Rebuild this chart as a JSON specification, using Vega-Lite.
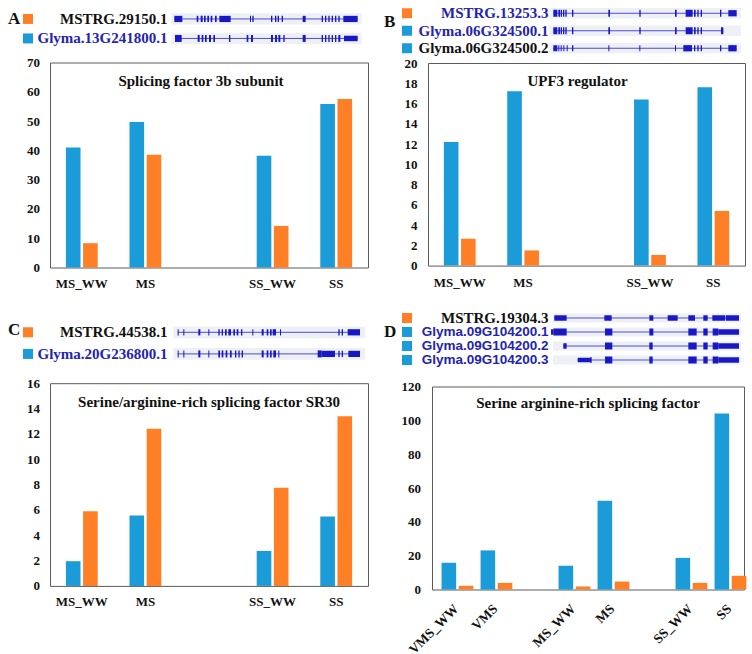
{
"$schema": "https://vega.github.io/schema/vega-lite/v6.json",
"background": "white",
"padding": {"left": 8, "top": 4.5, "right": 0, "bottom": 0},
"config": {
 "view": {"stroke": null},
 "axis": {"domain": false, "ticks": false, "grid": false, "labelFont": "Liberation Serif", "labelFontWeight": "bold", "labelColor": "#111111", "labelFontSize": 13},
 "title": {"font": "Liberation Serif", "fontWeight": "bold", "fontSize": 15, "color": "#111111"}
},
"datasets": {
 "bars": [
  {"p":"A","cond":"MS_WW","series":"Glyma","value":41.0},{"p":"A","cond":"MS_WW","series":"MSTRG","value":8.3},
  {"p":"A","cond":"MS","series":"Glyma","value":49.7},{"p":"A","cond":"MS","series":"MSTRG","value":38.5},
  {"p":"A","cond":"SS_WW","series":"Glyma","value":38.2},{"p":"A","cond":"SS_WW","series":"MSTRG","value":14.2},
  {"p":"A","cond":"SS","series":"Glyma","value":55.8},{"p":"A","cond":"SS","series":"MSTRG","value":57.5},
  {"p":"B","cond":"MS_WW","series":"Glyma","value":12.2},{"p":"B","cond":"MS_WW","series":"MSTRG","value":2.65},
  {"p":"B","cond":"MS","series":"Glyma","value":17.2},{"p":"B","cond":"MS","series":"MSTRG","value":1.5},
  {"p":"B","cond":"SS_WW","series":"Glyma","value":16.4},{"p":"B","cond":"SS_WW","series":"MSTRG","value":1.05},
  {"p":"B","cond":"SS","series":"Glyma","value":17.6},{"p":"B","cond":"SS","series":"MSTRG","value":5.4},
  {"p":"C","cond":"MS_WW","series":"Glyma","value":1.95},{"p":"C","cond":"MS_WW","series":"MSTRG","value":5.9},
  {"p":"C","cond":"MS","series":"Glyma","value":5.55},{"p":"C","cond":"MS","series":"MSTRG","value":12.4},
  {"p":"C","cond":"SS_WW","series":"Glyma","value":2.76},{"p":"C","cond":"SS_WW","series":"MSTRG","value":7.74},
  {"p":"C","cond":"SS","series":"Glyma","value":5.47},{"p":"C","cond":"SS","series":"MSTRG","value":13.4},
  {"p":"D","cond":"VMS_WW","series":"Glyma","value":15.8},{"p":"D","cond":"VMS_WW","series":"MSTRG","value":2.2},
  {"p":"D","cond":"VMS","series":"Glyma","value":23.1},{"p":"D","cond":"VMS","series":"MSTRG","value":3.9},
  {"p":"D","cond":"MS_WW","series":"Glyma","value":14.0},{"p":"D","cond":"MS_WW","series":"MSTRG","value":1.8},
  {"p":"D","cond":"MS","series":"Glyma","value":52.4},{"p":"D","cond":"MS","series":"MSTRG","value":4.7},
  {"p":"D","cond":"SS_WW","series":"Glyma","value":18.7},{"p":"D","cond":"SS_WW","series":"MSTRG","value":3.9},
  {"p":"D","cond":"SS","series":"Glyma","value":104.0},{"p":"D","cond":"SS","series":"MSTRG","value":8.1}
 ],
 "genes": [
  {"p":"A","gene":"MSTRG.29150.1","series":"MSTRG","start":28,"end":578},
  {"p":"A","gene":"Glyma.13G241800.1","series":"Glyma","start":30,"end":578},
  {"p":"B","gene":"MSTRG.13253.3","series":"MSTRG","start":40,"end":590},
  {"p":"B","gene":"Glyma.06G324500.1","series":"Glyma","start":40,"end":550},
  {"p":"B","gene":"Glyma.06G324500.2","series":"Glyma","start":40,"end":590},
  {"p":"C","gene":"MSTRG.44538.1","series":"MSTRG","start":38,"end":585},
  {"p":"C","gene":"Glyma.20G236800.1","series":"Glyma","start":38,"end":585},
  {"p":"D","gene":"MSTRG.19304.3","series":"MSTRG","start":28,"end":582},
  {"p":"D","gene":"Glyma.09G104200.1","series":"Glyma","start":18,"end":582},
  {"p":"D","gene":"Glyma.09G104200.2","series":"Glyma","start":55,"end":582},
  {"p":"D","gene":"Glyma.09G104200.3","series":"Glyma","start":98,"end":582}
 ],
 "exons": [
  {"p":"A","g":"MSTRG.29150.1","s":28,"e":52,"k":"exon"},{"p":"A","g":"MSTRG.29150.1","s":95,"e":100,"k":"exon"},{"p":"A","g":"MSTRG.29150.1","s":107,"e":113,"k":"exon"},{"p":"A","g":"MSTRG.29150.1","s":117,"e":122,"k":"exon"},{"p":"A","g":"MSTRG.29150.1","s":127,"e":132,"k":"exon"},{"p":"A","g":"MSTRG.29150.1","s":137,"e":142,"k":"exon"},{"p":"A","g":"MSTRG.29150.1","s":150,"e":155,"k":"exon"},{"p":"A","g":"MSTRG.29150.1","s":163,"e":197,"k":"exon"},{"p":"A","g":"MSTRG.29150.1","s":255,"e":258,"k":"exon"},{"p":"A","g":"MSTRG.29150.1","s":262,"e":266,"k":"exon"},{"p":"A","g":"MSTRG.29150.1","s":318,"e":322,"k":"exon"},{"p":"A","g":"MSTRG.29150.1","s":330,"e":334,"k":"exon"},{"p":"A","g":"MSTRG.29150.1","s":338,"e":342,"k":"exon"},{"p":"A","g":"MSTRG.29150.1","s":350,"e":354,"k":"exon"},{"p":"A","g":"MSTRG.29150.1","s":413,"e":422,"k":"exon"},{"p":"A","g":"MSTRG.29150.1","s":470,"e":474,"k":"exon"},{"p":"A","g":"MSTRG.29150.1","s":480,"e":484,"k":"exon"},{"p":"A","g":"MSTRG.29150.1","s":490,"e":494,"k":"exon"},{"p":"A","g":"MSTRG.29150.1","s":500,"e":504,"k":"exon"},{"p":"A","g":"MSTRG.29150.1","s":510,"e":514,"k":"exon"},{"p":"A","g":"MSTRG.29150.1","s":520,"e":524,"k":"exon"},{"p":"A","g":"MSTRG.29150.1","s":535,"e":578,"k":"exon"},
  {"p":"A","g":"Glyma.13G241800.1","s":30,"e":50,"k":"CDS"},{"p":"A","g":"Glyma.13G241800.1","s":98,"e":104,"k":"CDS"},{"p":"A","g":"Glyma.13G241800.1","s":110,"e":115,"k":"CDS"},{"p":"A","g":"Glyma.13G241800.1","s":120,"e":125,"k":"CDS"},{"p":"A","g":"Glyma.13G241800.1","s":132,"e":138,"k":"CDS"},{"p":"A","g":"Glyma.13G241800.1","s":145,"e":150,"k":"CDS"},{"p":"A","g":"Glyma.13G241800.1","s":192,"e":196,"k":"CDS"},{"p":"A","g":"Glyma.13G241800.1","s":245,"e":250,"k":"CDS"},{"p":"A","g":"Glyma.13G241800.1","s":258,"e":264,"k":"CDS"},{"p":"A","g":"Glyma.13G241800.1","s":318,"e":324,"k":"CDS"},{"p":"A","g":"Glyma.13G241800.1","s":330,"e":336,"k":"CDS"},{"p":"A","g":"Glyma.13G241800.1","s":340,"e":346,"k":"CDS"},{"p":"A","g":"Glyma.13G241800.1","s":355,"e":359,"k":"CDS"},{"p":"A","g":"Glyma.13G241800.1","s":413,"e":422,"k":"CDS"},{"p":"A","g":"Glyma.13G241800.1","s":470,"e":474,"k":"CDS"},{"p":"A","g":"Glyma.13G241800.1","s":480,"e":484,"k":"CDS"},{"p":"A","g":"Glyma.13G241800.1","s":490,"e":494,"k":"CDS"},{"p":"A","g":"Glyma.13G241800.1","s":500,"e":504,"k":"CDS"},{"p":"A","g":"Glyma.13G241800.1","s":510,"e":514,"k":"CDS"},{"p":"A","g":"Glyma.13G241800.1","s":520,"e":526,"k":"CDS"},{"p":"A","g":"Glyma.13G241800.1","s":537,"e":578,"k":"UTR"},
  {"p":"B","g":"MSTRG.13253.3","s":40,"e":52,"k":"CDS"},{"p":"B","g":"MSTRG.13253.3","s":55,"e":60,"k":"CDS"},{"p":"B","g":"MSTRG.13253.3","s":62,"e":66,"k":"CDS"},{"p":"B","g":"MSTRG.13253.3","s":69,"e":73,"k":"CDS"},{"p":"B","g":"MSTRG.13253.3","s":76,"e":80,"k":"CDS"},{"p":"B","g":"MSTRG.13253.3","s":96,"e":100,"k":"CDS"},{"p":"B","g":"MSTRG.13253.3","s":205,"e":210,"k":"CDS"},{"p":"B","g":"MSTRG.13253.3","s":298,"e":302,"k":"CDS"},{"p":"B","g":"MSTRG.13253.3","s":405,"e":410,"k":"CDS"},{"p":"B","g":"MSTRG.13253.3","s":437,"e":458,"k":"CDS"},{"p":"B","g":"MSTRG.13253.3","s":462,"e":467,"k":"CDS"},{"p":"B","g":"MSTRG.13253.3","s":472,"e":476,"k":"CDS"},{"p":"B","g":"MSTRG.13253.3","s":482,"e":486,"k":"CDS"},{"p":"B","g":"MSTRG.13253.3","s":540,"e":544,"k":"CDS"},{"p":"B","g":"MSTRG.13253.3","s":565,"e":590,"k":"exon"},
  {"p":"B","g":"Glyma.06G324500.1","s":40,"e":52,"k":"CDS"},{"p":"B","g":"Glyma.06G324500.1","s":55,"e":60,"k":"CDS"},{"p":"B","g":"Glyma.06G324500.1","s":62,"e":66,"k":"CDS"},{"p":"B","g":"Glyma.06G324500.1","s":69,"e":73,"k":"CDS"},{"p":"B","g":"Glyma.06G324500.1","s":76,"e":80,"k":"CDS"},{"p":"B","g":"Glyma.06G324500.1","s":96,"e":100,"k":"CDS"},{"p":"B","g":"Glyma.06G324500.1","s":205,"e":210,"k":"CDS"},{"p":"B","g":"Glyma.06G324500.1","s":298,"e":302,"k":"CDS"},{"p":"B","g":"Glyma.06G324500.1","s":405,"e":410,"k":"CDS"},{"p":"B","g":"Glyma.06G324500.1","s":437,"e":458,"k":"CDS"},{"p":"B","g":"Glyma.06G324500.1","s":462,"e":467,"k":"CDS"},{"p":"B","g":"Glyma.06G324500.1","s":472,"e":476,"k":"CDS"},{"p":"B","g":"Glyma.06G324500.1","s":482,"e":486,"k":"CDS"},{"p":"B","g":"Glyma.06G324500.1","s":543,"e":550,"k":"CDS"},
  {"p":"B","g":"Glyma.06G324500.2","s":40,"e":52,"k":"exon"},{"p":"B","g":"Glyma.06G324500.2","s":55,"e":58,"k":"exon"},{"p":"B","g":"Glyma.06G324500.2","s":62,"e":65,"k":"exon"},{"p":"B","g":"Glyma.06G324500.2","s":70,"e":73,"k":"exon"},{"p":"B","g":"Glyma.06G324500.2","s":80,"e":83,"k":"exon"},{"p":"B","g":"Glyma.06G324500.2","s":96,"e":100,"k":"exon"},{"p":"B","g":"Glyma.06G324500.2","s":205,"e":208,"k":"exon"},{"p":"B","g":"Glyma.06G324500.2","s":298,"e":301,"k":"exon"},{"p":"B","g":"Glyma.06G324500.2","s":405,"e":408,"k":"exon"},{"p":"B","g":"Glyma.06G324500.2","s":430,"e":456,"k":"exon"},{"p":"B","g":"Glyma.06G324500.2","s":462,"e":466,"k":"exon"},{"p":"B","g":"Glyma.06G324500.2","s":472,"e":476,"k":"exon"},{"p":"B","g":"Glyma.06G324500.2","s":482,"e":486,"k":"exon"},{"p":"B","g":"Glyma.06G324500.2","s":540,"e":544,"k":"exon"},{"p":"B","g":"Glyma.06G324500.2","s":565,"e":590,"k":"exon"},
  {"p":"C","g":"MSTRG.44538.1","s":38,"e":41,"k":"exon"},{"p":"C","g":"MSTRG.44538.1","s":55,"e":58,"k":"exon"},{"p":"C","g":"MSTRG.44538.1","s":100,"e":106,"k":"exon"},{"p":"C","g":"MSTRG.44538.1","s":130,"e":133,"k":"exon"},{"p":"C","g":"MSTRG.44538.1","s":160,"e":164,"k":"exon"},{"p":"C","g":"MSTRG.44538.1","s":170,"e":174,"k":"exon"},{"p":"C","g":"MSTRG.44538.1","s":180,"e":185,"k":"exon"},{"p":"C","g":"MSTRG.44538.1","s":190,"e":198,"k":"exon"},{"p":"C","g":"MSTRG.44538.1","s":205,"e":210,"k":"exon"},{"p":"C","g":"MSTRG.44538.1","s":215,"e":220,"k":"exon"},{"p":"C","g":"MSTRG.44538.1","s":228,"e":232,"k":"exon"},{"p":"C","g":"MSTRG.44538.1","s":262,"e":265,"k":"exon"},{"p":"C","g":"MSTRG.44538.1","s":290,"e":296,"k":"exon"},{"p":"C","g":"MSTRG.44538.1","s":305,"e":310,"k":"exon"},{"p":"C","g":"MSTRG.44538.1","s":315,"e":320,"k":"exon"},{"p":"C","g":"MSTRG.44538.1","s":323,"e":333,"k":"exon"},{"p":"C","g":"MSTRG.44538.1","s":345,"e":348,"k":"exon"},{"p":"C","g":"MSTRG.44538.1","s":520,"e":524,"k":"exon"},{"p":"C","g":"MSTRG.44538.1","s":530,"e":534,"k":"exon"},{"p":"C","g":"MSTRG.44538.1","s":548,"e":585,"k":"exon"},
  {"p":"C","g":"Glyma.20G236800.1","s":38,"e":41,"k":"CDS"},{"p":"C","g":"Glyma.20G236800.1","s":55,"e":58,"k":"CDS"},{"p":"C","g":"Glyma.20G236800.1","s":100,"e":106,"k":"CDS"},{"p":"C","g":"Glyma.20G236800.1","s":130,"e":133,"k":"CDS"},{"p":"C","g":"Glyma.20G236800.1","s":160,"e":165,"k":"CDS"},{"p":"C","g":"Glyma.20G236800.1","s":170,"e":175,"k":"CDS"},{"p":"C","g":"Glyma.20G236800.1","s":182,"e":187,"k":"CDS"},{"p":"C","g":"Glyma.20G236800.1","s":195,"e":200,"k":"CDS"},{"p":"C","g":"Glyma.20G236800.1","s":210,"e":214,"k":"CDS"},{"p":"C","g":"Glyma.20G236800.1","s":220,"e":224,"k":"CDS"},{"p":"C","g":"Glyma.20G236800.1","s":230,"e":234,"k":"CDS"},{"p":"C","g":"Glyma.20G236800.1","s":290,"e":296,"k":"CDS"},{"p":"C","g":"Glyma.20G236800.1","s":305,"e":310,"k":"CDS"},{"p":"C","g":"Glyma.20G236800.1","s":315,"e":320,"k":"CDS"},{"p":"C","g":"Glyma.20G236800.1","s":325,"e":333,"k":"CDS"},{"p":"C","g":"Glyma.20G236800.1","s":340,"e":343,"k":"CDS"},{"p":"C","g":"Glyma.20G236800.1","s":458,"e":470,"k":"CDS"},{"p":"C","g":"Glyma.20G236800.1","s":470,"e":510,"k":"exon"},{"p":"C","g":"Glyma.20G236800.1","s":520,"e":524,"k":"exon"},{"p":"C","g":"Glyma.20G236800.1","s":530,"e":534,"k":"exon"},{"p":"C","g":"Glyma.20G236800.1","s":550,"e":585,"k":"exon"},
  {"p":"D","g":"MSTRG.19304.3","s":28,"e":65,"k":"UTR"},{"p":"D","g":"MSTRG.19304.3","s":178,"e":200,"k":"UTR"},{"p":"D","g":"MSTRG.19304.3","s":313,"e":325,"k":"UTR"},{"p":"D","g":"MSTRG.19304.3","s":368,"e":398,"k":"UTR"},{"p":"D","g":"MSTRG.19304.3","s":430,"e":450,"k":"UTR"},{"p":"D","g":"MSTRG.19304.3","s":475,"e":488,"k":"UTR"},{"p":"D","g":"MSTRG.19304.3","s":502,"e":540,"k":"UTR"},{"p":"D","g":"MSTRG.19304.3","s":542,"e":582,"k":"UTR"},
  {"p":"D","g":"Glyma.09G104200.1","s":18,"e":25,"k":"UTR"},{"p":"D","g":"Glyma.09G104200.1","s":25,"e":65,"k":"CDS"},{"p":"D","g":"Glyma.09G104200.1","s":180,"e":202,"k":"CDS"},{"p":"D","g":"Glyma.09G104200.1","s":313,"e":325,"k":"CDS"},{"p":"D","g":"Glyma.09G104200.1","s":430,"e":455,"k":"CDS"},{"p":"D","g":"Glyma.09G104200.1","s":475,"e":488,"k":"CDS"},{"p":"D","g":"Glyma.09G104200.1","s":503,"e":520,"k":"CDS"},{"p":"D","g":"Glyma.09G104200.1","s":520,"e":582,"k":"UTR"},
  {"p":"D","g":"Glyma.09G104200.2","s":55,"e":65,"k":"UTR"},{"p":"D","g":"Glyma.09G104200.2","s":180,"e":202,"k":"CDS"},{"p":"D","g":"Glyma.09G104200.2","s":313,"e":323,"k":"CDS"},{"p":"D","g":"Glyma.09G104200.2","s":430,"e":455,"k":"CDS"},{"p":"D","g":"Glyma.09G104200.2","s":475,"e":488,"k":"CDS"},{"p":"D","g":"Glyma.09G104200.2","s":503,"e":520,"k":"CDS"},{"p":"D","g":"Glyma.09G104200.2","s":520,"e":582,"k":"UTR"},
  {"p":"D","g":"Glyma.09G104200.3","s":98,"e":135,"k":"thin"},{"p":"D","g":"Glyma.09G104200.3","s":135,"e":140,"k":"UTR"},{"p":"D","g":"Glyma.09G104200.3","s":180,"e":202,"k":"CDS"},{"p":"D","g":"Glyma.09G104200.3","s":313,"e":323,"k":"CDS"},{"p":"D","g":"Glyma.09G104200.3","s":430,"e":455,"k":"CDS"},{"p":"D","g":"Glyma.09G104200.3","s":475,"e":488,"k":"CDS"},{"p":"D","g":"Glyma.09G104200.3","s":503,"e":520,"k":"CDS"},{"p":"D","g":"Glyma.09G104200.3","s":520,"e":582,"k":"UTR"}
 ]
},
"spacing": 15,
"hconcat": [
 {"spacing": 30, "vconcat": [
  {"spacing": 9, "vconcat": [
   {"spacing": 0, "hconcat": [
    {"width": 20, "height": 39.6,
     "encoding": {"y": {"field": "gene", "type": "nominal", "scale": {"type": "band", "domain": ["MSTRG.29150.1","Glyma.13G241800.1"], "paddingInner": 0.42, "paddingOuter": 0.2254, "align": 1}, "axis": null},
                  "x": {"datum": 1, "type": "quantitative", "scale": {"domain": [0,1], "nice": false, "zero": false}, "axis": null}},
     "layer": [
      {"data": {"values": [{"letter": "A"}]}, "mark": {"type": "text", "align": "left", "baseline": "middle", "font": "Liberation Serif", "fontWeight": "bold", "fontSize": 17, "color": "#111111"},
       "encoding": {"x": {"datum": 0, "type": "quantitative"}, "y": {"datum": "MSTRG.29150.1", "type": "nominal"}, "text": {"field": "letter"}}},
      {"data": {"name": "genes"}, "transform": [{"filter": "datum.p == 'A'"}], "mark": {"type": "square", "size": 100, "opacity": 1, "filled": true},
       "encoding": {"color": {"field": "series", "type": "nominal", "scale": {"domain": ["MSTRG","Glyma"], "range": ["#ff7f27","#1b9bd7"]}, "legend": null}}}
     ]},
    {"width": 195, "height": 39.6,
     "encoding": {"y": {"field": "gene", "type": "nominal", "scale": {"type": "band", "domain": ["MSTRG.29150.1","Glyma.13G241800.1"], "paddingInner": 0.42, "paddingOuter": 0.2254, "align": 1},
       "axis": {"labelFontSize": 15, "labelPadding": 3, "minExtent": 137, "labelLimit": 300, "title": null, "labelColor": {"condition": {"test": "indexof(datum.value, 'Glyma') == 0", "value": "#2424b0"}, "value": "#111111"}}}},
     "layer": [
      {"data": {"name": "genes"}, "transform": [{"filter": "datum.p == 'A'"}], "mark": {"type": "rect", "color": "#eef0f6"},
       "encoding": {"x": {"datum": 20, "type": "quantitative", "scale": {"domain": [15,600], "nice": false, "zero": false}, "axis": null}, "x2": {"datum": 590}}},
      {"data": {"name": "genes"}, "transform": [{"filter": "datum.p == 'A'"}], "mark": {"type": "rule", "color": "#4a4ae0", "strokeWidth": 1},
       "encoding": {"x": {"field": "start", "type": "quantitative"}, "x2": {"field": "end"}}},
      {"data": {"name": "exons"}, "transform": [{"filter": "datum.p == 'A'"}], "mark": {"type": "bar", "color": "#1818c4"},
       "encoding": {"y": {"field": "g", "type": "nominal"}, "x": {"field": "s", "type": "quantitative"}, "x2": {"field": "e"},
        "size": {"field": "k", "type": "ordinal", "scale": {"domain": ["CDS","exon","UTR","thin"], "range": [7,4.7,4,2]}, "legend": null}}}
     ]}
   ]},
   {"spacing": 0, "hconcat": [
    {"width": 10, "height": 1, "data": {"values": [{}]}, "mark": {"type": "point", "size": 1, "filled": true, "strokeWidth": 0, "opacity": 0}, "encoding": {}},
    {"width": 318, "height": 205,
    "data": {"name": "bars"}, "transform": [{"filter": "datum.p == 'A'"}],
    "title": {"text": "Splicing factor 3b subunit", "offset": -32, "dx": -8, "anchor": "middle", "frame": "group"},
    "view": {"stroke": "#5b5b5b", "strokeWidth": 1},
    "mark": {"type": "bar"},
    "encoding": {
     "x": {"field": "cond", "type": "nominal", "title": null, "scale": {"domain": ["MS_WW","MS","gap","SS_WW","SS"], "paddingInner": 0.5, "paddingOuter": 0.25},
           "axis": {"labelAngle": 0, "labelPadding": 9.5, "labelExpr": "datum.label == 'gap' ? '' : datum.label"}},
     "xOffset": {"field": "series", "type": "nominal", "scale": {"domain": ["Glyma","MSTRG"], "paddingInner": 0.15}},
     "y": {"field": "value", "type": "quantitative", "title": null, "scale": {"domain": [0,70], "nice": false},
           "axis": {"values": [0,10,20,30,40,50,60,70], "labelPadding": 10.5, "minExtent": 31.5}},
     "color": {"field": "series", "type": "nominal", "legend": null}
    }}
   ]}
  ]},
  {"spacing": 10.7, "vconcat": [
   {"spacing": 0, "hconcat": [
    {"width": 20, "height": 43.2,
     "encoding": {"y": {"field": "gene", "type": "nominal", "scale": {"type": "band", "domain": ["MSTRG.44538.1","Glyma.20G236800.1"], "paddingInner": 0.46, "paddingOuter": 0.23}, "axis": null},
                  "x": {"datum": 1, "type": "quantitative", "scale": {"domain": [0,1], "nice": false, "zero": false}, "axis": null}},
     "layer": [
      {"data": {"values": [{"letter": "C"}]}, "mark": {"type": "text", "align": "left", "baseline": "middle", "font": "Liberation Serif", "fontWeight": "bold", "fontSize": 17, "color": "#111111", "dy": -2},
       "encoding": {"x": {"datum": 0, "type": "quantitative"}, "y": {"datum": "MSTRG.44538.1", "type": "nominal"}, "text": {"field": "letter"}}},
      {"data": {"name": "genes"}, "transform": [{"filter": "datum.p == 'C'"}], "mark": {"type": "square", "size": 100, "opacity": 1, "filled": true},
       "encoding": {"color": {"field": "series", "type": "nominal", "legend": null}}}
     ]},
    {"width": 198, "height": 43.2,
     "encoding": {"y": {"field": "gene", "type": "nominal", "scale": {"type": "band", "domain": ["MSTRG.44538.1","Glyma.20G236800.1"], "paddingInner": 0.46, "paddingOuter": 0.23},
       "axis": {"labelFontSize": 15, "labelPadding": 3, "minExtent": 137, "labelLimit": 300, "title": null, "labelColor": {"condition": {"test": "indexof(datum.value, 'Glyma') == 0", "value": "#2424b0"}, "value": "#111111"}}}},
     "layer": [
      {"data": {"name": "genes"}, "transform": [{"filter": "datum.p == 'C'"}], "mark": {"type": "rect", "color": "#eef0f6"},
       "encoding": {"x": {"datum": 25, "type": "quantitative", "scale": {"domain": [15,609], "nice": false, "zero": false}, "axis": null}, "x2": {"datum": 600}}},
      {"data": {"name": "genes"}, "transform": [{"filter": "datum.p == 'C'"}], "mark": {"type": "rule", "color": "#4a4ae0", "strokeWidth": 1},
       "encoding": {"x": {"field": "start", "type": "quantitative"}, "x2": {"field": "end"}}},
      {"data": {"name": "exons"}, "transform": [{"filter": "datum.p == 'C'"}], "mark": {"type": "bar", "color": "#1818c4"},
       "encoding": {"y": {"field": "g", "type": "nominal"}, "x": {"field": "s", "type": "quantitative"}, "x2": {"field": "e"},
        "size": {"field": "k", "type": "ordinal", "legend": null}}}
     ]}
   ]},
   {"spacing": 0, "hconcat": [
    {"width": 10, "height": 1, "data": {"values": [{}]}, "mark": {"type": "point", "size": 1, "filled": true, "strokeWidth": 0, "opacity": 0}, "encoding": {}},
    {"width": 318, "height": 202.7,
    "data": {"name": "bars"}, "transform": [{"filter": "datum.p == 'C'"}],
    "title": {"text": "Serine/arginine-rich splicing factor SR30", "offset": -33, "anchor": "middle", "frame": "group"},
    "view": {"stroke": "#5b5b5b", "strokeWidth": 1},
    "mark": {"type": "bar"},
    "encoding": {
     "x": {"field": "cond", "type": "nominal", "title": null, "scale": {"domain": ["MS_WW","MS","gap","SS_WW","SS"], "paddingInner": 0.5, "paddingOuter": 0.25},
           "axis": {"labelAngle": 0, "labelPadding": 9.5, "labelExpr": "datum.label == 'gap' ? '' : datum.label"}},
     "xOffset": {"field": "series", "type": "nominal", "scale": {"domain": ["Glyma","MSTRG"], "paddingInner": 0.15}},
     "y": {"field": "value", "type": "quantitative", "title": null, "scale": {"domain": [0,16], "nice": false},
           "axis": {"values": [0,2,4,6,8,10,12,14,16], "labelPadding": 10.5, "minExtent": 31.5}},
     "color": {"field": "series", "type": "nominal", "legend": null}
    }}
   ]}
  ]}
 ]},
 {"spacing": 19.5, "vconcat": [
  {"spacing": -0.5, "vconcat": [
   {"spacing": 0, "hconcat": [
    {"width": 23, "height": 49,
     "encoding": {"y": {"field": "gene", "type": "nominal", "scale": {"type": "band", "domain": ["MSTRG.13253.3","Glyma.06G324500.1","Glyma.06G324500.2"], "paddingInner": 0.4, "paddingOuter": 0.1, "align": 1}, "axis": null},
                  "x": {"datum": 1, "type": "quantitative", "scale": {"domain": [0,1], "nice": false, "zero": false}, "axis": null}},
     "layer": [
      {"data": {"values": [{"letter": "B"}]}, "mark": {"type": "text", "align": "left", "baseline": "middle", "font": "Liberation Serif", "fontWeight": "bold", "fontSize": 17, "color": "#111111", "dy": 9},
       "encoding": {"x": {"datum": 0, "type": "quantitative"}, "y": {"datum": "MSTRG.13253.3", "type": "nominal"}, "text": {"field": "letter"}}},
      {"data": {"name": "genes"}, "transform": [{"filter": "datum.p == 'B'"}], "mark": {"type": "square", "size": 100, "opacity": 1, "filled": true},
       "encoding": {"color": {"field": "series", "type": "nominal", "legend": null}}}
     ]},
    {"width": 196, "height": 49,
     "encoding": {"y": {"field": "gene", "type": "nominal", "scale": {"type": "band", "domain": ["MSTRG.13253.3","Glyma.06G324500.1","Glyma.06G324500.2"], "paddingInner": 0.4, "paddingOuter": 0.1, "align": 1},
       "axis": {"labelFontSize": 15, "labelPadding": 1, "minExtent": 137, "labelLimit": 300, "title": null, "labelColor": {"condition": {"test": "datum.value == 'Glyma.06G324500.2'", "value": "#111111"}, "value": "#2424b0"}}}},
     "layer": [
      {"data": {"name": "genes"}, "transform": [{"filter": "datum.p == 'B'"}], "mark": {"type": "rect", "color": "#eef0f6"},
       "encoding": {"x": {"datum": 28, "type": "quantitative", "scale": {"domain": [27,615], "nice": false, "zero": false}, "axis": null}, "x2": {"datum": 603}}},
      {"data": {"name": "genes"}, "transform": [{"filter": "datum.p == 'B'"}], "mark": {"type": "rule", "color": "#4a4ae0", "strokeWidth": 1},
       "encoding": {"x": {"field": "start", "type": "quantitative"}, "x2": {"field": "end"}}},
      {"data": {"name": "exons"}, "transform": [{"filter": "datum.p == 'B'"}], "mark": {"type": "bar", "color": "#1818c4"},
       "encoding": {"y": {"field": "g", "type": "nominal"}, "x": {"field": "s", "type": "quantitative"}, "x2": {"field": "e"},
        "size": {"field": "k", "type": "ordinal", "legend": null}}}
     ]}
   ]},
   {"spacing": 0, "hconcat": [
    {"width": 10, "height": 1, "data": {"values": [{}]}, "mark": {"type": "point", "size": 1, "filled": true, "strokeWidth": 0, "opacity": 0}, "encoding": {}},
    {"width": 317, "height": 202.6,
    "data": {"name": "bars"}, "transform": [{"filter": "datum.p == 'B'"}],
    "title": {"text": "UPF3 regulator", "offset": -32, "dx": -9, "anchor": "middle", "frame": "group"},
    "view": {"stroke": "#5b5b5b", "strokeWidth": 1},
    "mark": {"type": "bar"},
    "encoding": {
     "x": {"field": "cond", "type": "nominal", "title": null, "scale": {"domain": ["MS_WW","MS","gap","SS_WW","SS"], "paddingInner": 0.5, "paddingOuter": 0.25},
           "axis": {"labelAngle": 0, "labelPadding": 10.5, "labelExpr": "datum.label == 'gap' ? '' : datum.label"}},
     "xOffset": {"field": "series", "type": "nominal", "scale": {"domain": ["Glyma","MSTRG"], "paddingInner": 0.15}},
     "y": {"field": "value", "type": "quantitative", "title": null, "scale": {"domain": [0,20], "nice": false},
           "axis": {"values": [0,2,4,6,8,10,12,14,16,18,20], "labelPadding": 11, "minExtent": 33.5}},
     "color": {"field": "series", "type": "nominal", "legend": null}
    }}
   ]}
  ]},
  {"spacing": 12.5, "vconcat": [
   {"spacing": 0, "hconcat": [
    {"width": 23, "height": 56,
     "encoding": {"y": {"field": "gene", "type": "nominal", "scale": {"type": "band", "domain": ["MSTRG.19304.3","Glyma.09G104200.1","Glyma.09G104200.2","Glyma.09G104200.3"], "paddingInner": 0.357, "paddingOuter": 0.1785}, "axis": null},
                  "x": {"datum": 1, "type": "quantitative", "scale": {"domain": [0,1], "nice": false, "zero": false}, "axis": null}},
     "layer": [
      {"data": {"values": [{"letter": "D"}]}, "mark": {"type": "text", "align": "left", "baseline": "middle", "font": "Liberation Serif", "fontWeight": "bold", "fontSize": 17, "color": "#111111"},
       "encoding": {"x": {"datum": 0, "type": "quantitative"}, "y": {"datum": "Glyma.09G104200.1", "type": "nominal"}, "text": {"field": "letter"}}},
      {"data": {"name": "genes"}, "transform": [{"filter": "datum.p == 'D'"}], "mark": {"type": "square", "size": 100, "opacity": 1, "filled": true},
       "encoding": {"color": {"field": "series", "type": "nominal", "legend": null}}}
     ]},
    {"width": 193, "height": 56,
     "encoding": {"y": {"field": "gene", "type": "nominal", "scale": {"type": "band", "domain": ["MSTRG.19304.3","Glyma.09G104200.1","Glyma.09G104200.2","Glyma.09G104200.3"], "paddingInner": 0.357, "paddingOuter": 0.1785},
       "axis": {"labelPadding": 3, "minExtent": 139, "labelLimit": 300, "title": null,
        "labelColor": {"condition": {"test": "indexof(datum.value, 'Glyma') == 0", "value": "#2424b0"}, "value": "#111111"},
        "labelFont": {"condition": {"test": "indexof(datum.value, 'Glyma') == 0", "value": "Liberation Sans"}, "value": "Liberation Serif"},
        "labelFontSize": {"condition": {"test": "indexof(datum.value, 'Glyma') == 0", "value": 13.5}, "value": 15}}}},
     "layer": [
      {"data": {"name": "genes"}, "transform": [{"filter": "datum.p == 'D'"}], "mark": {"type": "rect", "color": "#eef0f6"},
       "encoding": {"x": {"datum": 24, "type": "quantitative", "scale": {"domain": [18,597], "nice": false, "zero": false}, "axis": null}, "x2": {"datum": 588}}},
      {"data": {"name": "genes"}, "transform": [{"filter": "datum.p == 'D'"}], "mark": {"type": "rule", "color": "#4a4ae0", "strokeWidth": 1},
       "encoding": {"x": {"field": "start", "type": "quantitative"}, "x2": {"field": "end"}}},
      {"data": {"name": "exons"}, "transform": [{"filter": "datum.p == 'D'"}], "mark": {"type": "bar", "color": "#1818c4"},
       "encoding": {"y": {"field": "g", "type": "nominal"}, "x": {"field": "s", "type": "quantitative"}, "x2": {"field": "e"},
        "size": {"field": "k", "type": "ordinal", "legend": null}}}
     ]}
   ]},
   {"spacing": 0, "hconcat": [
    {"width": 10, "height": 1, "data": {"values": [{}]}, "mark": {"type": "point", "size": 1, "filled": true, "strokeWidth": 0, "opacity": 0}, "encoding": {}},
    {"width": 312, "height": 203,
    "data": {"name": "bars"}, "transform": [{"filter": "datum.p == 'D'"}],
    "title": {"text": "Serine arginine-rich splicing factor", "offset": -30, "anchor": "middle", "frame": "group"},
    "view": {"stroke": "#5b5b5b", "strokeWidth": 1},
    "mark": {"type": "bar"},
    "encoding": {
     "x": {"field": "cond", "type": "nominal", "title": null, "scale": {"domain": ["VMS_WW","VMS","gap1","MS_WW","MS","gap2","SS_WW","SS"], "paddingInner": 0.49, "paddingOuter": 0.245},
           "axis": {"labelAngle": -45, "labelAlign": "right", "labelBaseline": "top", "labelFontSize": 13.5, "labelPadding": 12, "labelExpr": "indexof(datum.label, 'gap') == 0 ? '' : datum.label"}},
     "xOffset": {"field": "series", "type": "nominal", "scale": {"domain": ["Glyma","MSTRG"], "paddingInner": 0.15}},
     "y": {"field": "value", "type": "quantitative", "title": null, "scale": {"domain": [0,120], "nice": false},
           "axis": {"values": [0,20,40,60,80,100,120], "labelPadding": 11.5, "minExtent": 37.5}},
     "color": {"field": "series", "type": "nominal", "legend": null}
    }}
   ]}
  ]}
 ]}
]
}
